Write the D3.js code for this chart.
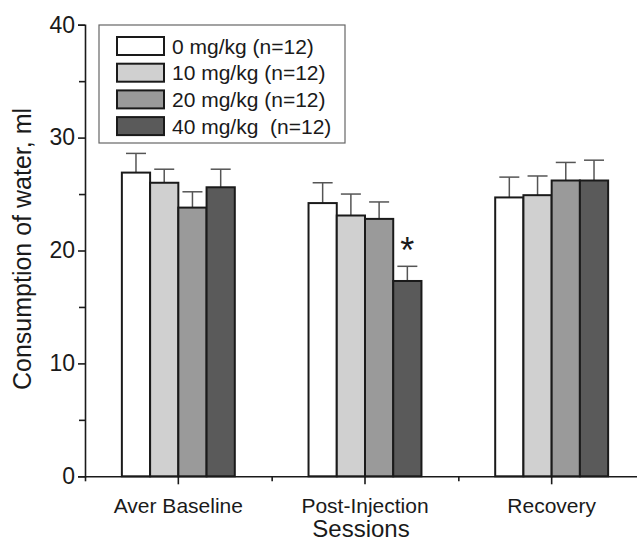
<!DOCTYPE html>
<html>
<head>
<meta charset="utf-8">
<script src="https://cdn.jsdelivr.net/npm/d3@7"></script>
<style>
  body { margin: 0; background: #fff; }
  text { font-family: "Liberation Sans", Arial, Helvetica, sans-serif; fill: #1a1a1a; }
</style>
</head>
<body>
<script>
// ---- data ----
var sessions = ["Aver Baseline", "Post-Injection", "Recovery"];
var doses = ["0 mg/kg (n=12)", "10 mg/kg (n=12)", "20 mg/kg (n=12)", "40 mg/kg  (n=12)"];
// mean consumption per dose, one entry per session
var mean0  = [26.9, 24.2, 24.7];
var mean10 = [26.0, 23.1, 24.9];
var mean20 = [23.8, 22.8, 26.2];
var mean40 = [25.6, 17.3, 26.2];
// standard error (upper bar only)
var sem0  = [1.7, 1.8, 1.8];
var sem10 = [1.2, 1.9, 1.7];
var sem20 = [1.4, 1.5, 1.6];
var sem40 = [1.6, 1.3, 1.8];
var yTicks = [0, 10, 20, 30, 40];
var yMinorTicks = [5, 15, 25, 35];
var signif = [{session: "Post-Injection", dose: 3, mark: "*"}];

var fills = ["#ffffff", "#d0d0d0", "#9a9a9a", "#5a5a5a"];

// ---- layout ----
var width = 637, height = 549;
var plotLeft = 85, plotBottom = 476.3, plotTop = 24.7;

var svg = d3.select("body").append("svg")
    .attr("width", width)
    .attr("height", height);

var x0 = d3.scaleBand().domain(sessions).range([plotLeft, 645]).padding(0);
var groupW = x0.bandwidth() * 0.605;
var x1 = d3.scaleBand().domain(d3.range(doses.length)).range([-groupW / 2, groupW / 2]);
var y = d3.scaleLinear().domain([0, 40]).range([plotBottom, plotTop]);

var means = [mean0, mean10, mean20, mean40];
var sems = [sem0, sem10, sem20, sem40];
var rows = [];
sessions.forEach(function(s, i) {
  doses.forEach(function(d, j) {
    rows.push({session: s, dose: j, value: means[j][i], err: sems[j][i]});
  });
});
function barX(d) { return x0(d.session) + x0.bandwidth() / 2 + x1(d.dose); }

// error bars (upper half, drawn before the bars)
var eb = svg.append("g").attr("stroke", "#555").attr("stroke-width", 1.5);
eb.selectAll("line.v").data(rows).enter().append("line")
    .attr("class", "v")
    .attr("x1", function(d) { return barX(d) + x1.bandwidth() / 2; })
    .attr("x2", function(d) { return barX(d) + x1.bandwidth() / 2; })
    .attr("y1", function(d) { return y(d.value); })
    .attr("y2", function(d) { return y(d.value + d.err); });
eb.selectAll("line.cap").data(rows).enter().append("line")
    .attr("class", "cap")
    .attr("x1", function(d) { return barX(d) + x1.bandwidth() / 2 - 10; })
    .attr("x2", function(d) { return barX(d) + x1.bandwidth() / 2 + 10; })
    .attr("y1", function(d) { return y(d.value + d.err); })
    .attr("y2", function(d) { return y(d.value + d.err); });

// bars
svg.append("g").selectAll("rect").data(rows).enter().append("rect")
    .attr("x", barX)
    .attr("y", function(d) { return y(d.value); })
    .attr("width", x1.bandwidth())
    .attr("height", function(d) { return y(0) - y(d.value); })
    .attr("fill", function(d) { return fills[d.dose]; })
    .attr("stroke", "#1a1a1a")
    .attr("stroke-width", 2);

// significance star, above the error bar
svg.append("g").selectAll("text").data(signif).enter().append("text")
    .attr("x", function(d) { return x0(d.session) + x0.bandwidth() / 2 + x1(d.dose) + x1.bandwidth() / 2; })
    .attr("y", function(d) {
      var i = sessions.indexOf(d.session);
      return y(means[d.dose][i] + sems[d.dose][i]) - 3;
    })
    .attr("text-anchor", "middle")
    .attr("font-size", "36px")
    .attr("font-family", "'DejaVu Sans', sans-serif")
    .text(function(d) { return d.mark; });

// y axis
var yAxis = svg.append("g")
    .attr("transform", "translate(" + plotLeft + ",0)")
    .call(d3.axisLeft(y).tickValues(yTicks).tickSize(7).tickPadding(3).tickFormat(d3.format("d")));
yAxis.selectAll("text").attr("font-size", "23px").attr("font-family", null).attr("fill", "#1a1a1a");
svg.append("g")
    .attr("transform", "translate(" + plotLeft + ",0)")
    .call(d3.axisLeft(y).tickValues(yMinorTicks).tickSize(6).tickFormat(""))
    .select(".domain").remove();

// x axis
var xAxis = svg.append("g")
    .attr("transform", "translate(0," + plotBottom + ")")
    .call(d3.axisBottom(x0).tickSize(8).tickSizeOuter(0).tickPadding(14));
xAxis.selectAll("text").attr("font-size", "21px").attr("font-family", null).attr("fill", "#1a1a1a");
var xEdge = d3.scaleLinear().domain([0, sessions.length]).range(x0.range());
svg.append("g")
    .attr("transform", "translate(0," + plotBottom + ")")
    .call(d3.axisBottom(xEdge).tickValues([0, 1, 2]).tickSize(5).tickFormat(""))
    .select(".domain").remove();

svg.selectAll(".domain, .tick line").attr("stroke", "#1a1a1a").attr("stroke-width", 1.6);

// axis titles
svg.append("text")
    .attr("x", 361).attr("y", 537)
    .attr("text-anchor", "middle")
    .attr("font-size", "24px")
    .text("Sessions");
svg.append("text")
    .attr("transform", "translate(31,249) rotate(-90)")
    .attr("text-anchor", "middle")
    .attr("font-size", "25px")
    .text("Consumption of water, ml");

// legend
var lg = svg.append("g").attr("transform", "translate(99,25)");
lg.append("rect")
    .attr("width", 246).attr("height", 118)
    .attr("fill", "#fff").attr("stroke", "#666").attr("stroke-width", 1.2);
var item = lg.selectAll("g.item").data(doses).enter().append("g")
    .attr("class", "item")
    .attr("transform", function(d, i) { return "translate(18," + (12 + i * 26.7) + ")"; });
item.append("rect")
    .attr("width", 47).attr("height", 18)
    .attr("fill", function(d, i) { return fills[i]; })
    .attr("stroke", "#1a1a1a").attr("stroke-width", 2);
item.append("text")
    .attr("x", 55).attr("y", 16.5)
    .attr("font-size", "21px")
    .style("white-space", "pre")
    .text(function(d) { return d; });
</script>
</body>
</html>
